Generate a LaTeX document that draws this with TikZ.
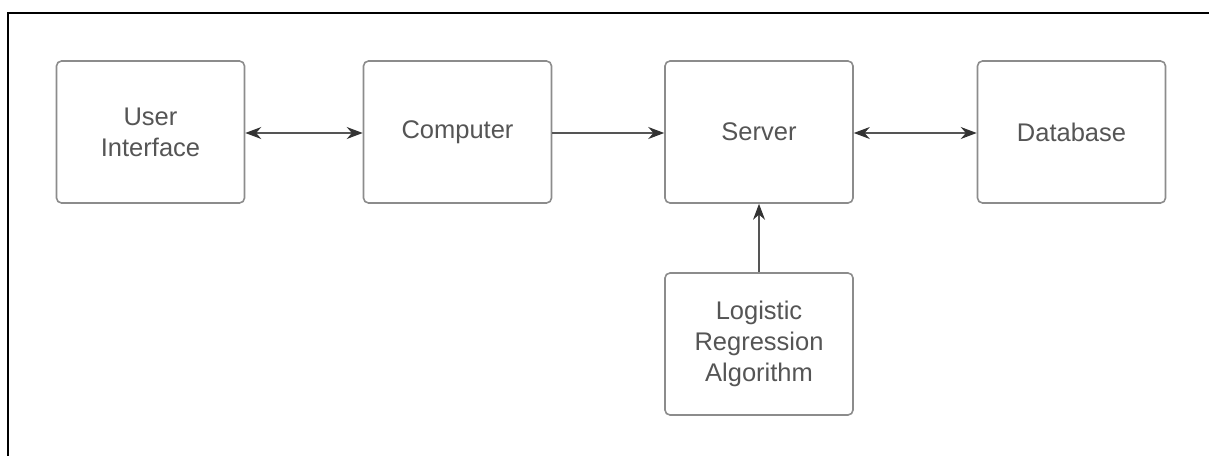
\documentclass[tikz,border=0pt]{standalone}
\usepackage{fontspec}
\setmainfont{Liberation Sans}
\usetikzlibrary{arrows.meta}
\definecolor{boxline}{HTML}{8C8C8C}
\definecolor{txt}{HTML}{555555}
\definecolor{arr}{HTML}{555555}
\definecolor{tip}{HTML}{333333}
\begin{document}
\begin{tikzpicture}[x=1pt,y=-1pt,
  blk/.style={draw=boxline,line width=1.6pt,rounded corners=5pt,minimum width=188pt,minimum height=142pt,inner sep=0pt,align=center,text=txt,font=\fontsize{25.5}{31}\selectfont,fill=white},
  conn/.style={draw=arr,line width=1.2pt,-{Stealth[length=16pt,width=12pt,fill=tip,color=tip]}},
  biconn/.style={draw=arr,line width=1.2pt,{Stealth[length=16pt,width=12pt,fill=tip,color=tip]}-{Stealth[length=16pt,width=12pt,fill=tip,color=tip]}}]
\useasboundingbox (0,0) rectangle (1209,455);
\coordinate (fb) at (8,456);
\coordinate (fc) at (8,13);
\coordinate (fr) at (1210,13);
\draw[black,line width=2.2pt] (fb) -- (fc) -- (fr);
\node[blk] (ui) at (150.5,132) {User\\Interface};
\node[blk] (comp) at (457.5,132) {Computer};
\node[blk] (srv) at (759,132) {Server};
\node[blk] (db) at (1071.5,132) {Database};
\node[blk] (lr) at (759,344) {Logistic\\Regression\\Algorithm};
\draw[biconn] (ui.east |- 0,133) -- (comp.west |- 0,133);
\draw[conn] (comp.east |- 0,133) -- (srv.west |- 0,133);
\draw[biconn] (srv.east |- 0,133) -- (db.west |- 0,133);
\draw[conn] (lr.north) -- (srv.south);
\end{tikzpicture}
\end{document}
